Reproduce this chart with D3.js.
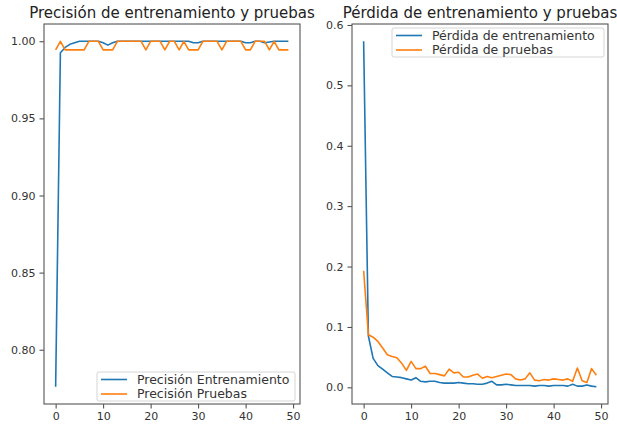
<!DOCTYPE html>
<html>
<head>
<meta charset="utf-8">
<script src="https://cdn.jsdelivr.net/npm/d3@7"></script>
<style>
  body { margin: 0; background: #fff; overflow: hidden; }
  svg { display: block; }
  text { font-family: 'DejaVu Sans', sans-serif; }
</style>
</head>
<body>
<div id="chart"></div>
<script>
// values, one per epoch
const trainAcc = [0.776, 0.9925, 0.996, 0.998, 0.999, 1.0, 1.0, 1.0, 1.0, 1.0,
  0.999, 0.9975, 0.999, 1.0, 1.0, 1.0, 1.0, 1.0, 1.0, 1.0,
  1.0, 1.0, 1.0, 1.0, 1.0, 1.0, 1.0, 1.0, 1.0, 0.999,
  0.999, 1.0, 1.0, 1.0, 1.0, 1.0, 1.0, 1.0, 1.0, 1.0,
  0.999, 0.999, 1.0, 1.0, 0.999, 0.9995, 1.0, 1.0, 1.0, 1.0]
const valAcc = [0.9944, 1.0, 0.9944, 0.9944, 0.9944, 0.9944, 0.9944, 1.0, 1.0, 1.0,
  0.9944, 0.9944, 0.9944, 1.0, 1.0, 1.0, 1.0, 1.0, 1.0, 0.9944,
  1.0, 1.0, 1.0, 0.9944, 1.0, 1.0, 0.9944, 1.0, 0.9944, 0.9944,
  0.9944, 1.0, 1.0, 1.0, 1.0, 0.9944, 1.0, 1.0, 1.0, 1.0,
  0.9944, 0.9944, 1.0, 1.0, 1.0, 0.9944, 1.0, 0.9944, 0.9944, 0.9944]
const trainLoss = [0.573, 0.085, 0.048, 0.036, 0.030, 0.024, 0.018, 0.017, 0.016, 0.014,
  0.012, 0.016, 0.010, 0.009, 0.010, 0.010, 0.008, 0.007, 0.007, 0.007,
  0.008, 0.007, 0.006, 0.006, 0.005, 0.005, 0.007, 0.010, 0.004, 0.004,
  0.005, 0.004, 0.003, 0.003, 0.003, 0.003, 0.002, 0.003, 0.003, 0.002,
  0.003, 0.003, 0.003, 0.002, 0.005, 0.002, 0.002, 0.004, 0.002, 0.001]
const valLoss = [0.193, 0.087, 0.083, 0.076, 0.065, 0.054, 0.051, 0.049, 0.040, 0.028,
  0.043, 0.031, 0.031, 0.035, 0.023, 0.023, 0.021, 0.019, 0.030, 0.024,
  0.025, 0.017, 0.017, 0.020, 0.022, 0.015, 0.018, 0.016, 0.018, 0.020,
  0.022, 0.021, 0.014, 0.012, 0.014, 0.024, 0.012, 0.011, 0.013, 0.012,
  0.014, 0.013, 0.012, 0.014, 0.010, 0.032, 0.011, 0.008, 0.031, 0.020]

const epochTicks = [0, 10, 20, 30, 40, 50]
const accTicks = [0.80, 0.85, 0.90, 0.95, 1.00]
const lossTicks = [0.0, 0.1, 0.2, 0.3, 0.4, 0.5, 0.6]
const accTitle = 'Precisión de entrenamiento y pruebas'
const lossTitle = 'Pérdida de entrenamiento y pruebas'
const accLabels = ['Precisión Entrenamiento', 'Precisión Pruebas']
const lossLabels = ['Pérdida de entrenamiento', 'Pérdida de pruebas']
const colors = ['#1f77b4', '#ff7f0e']

const width = 617
const height = 424
const plotTop = 24
const plotBottom = 404

const svg = d3.select('#chart')
  .append('svg')
  .attr('width', width)
  .attr('height', height)

function panel (cfg) {
  const x = d3.scaleLinear().domain([-2.45, 51.45]).range([cfg.x0, cfg.x1])
  const [lo, hi] = d3.extent(cfg.series.flat())
  const pad = (hi - lo) * 0.05
  const y = d3.scaleLinear().domain([lo - pad, hi + pad]).range([plotBottom, plotTop])
  const g = svg.append('g')

  const line = d3.line().x((d, i) => x(i)).y(d => y(d))
  cfg.series.forEach((s, i) => {
    g.append('path')
      .datum(s)
      .attr('d', line)
      .attr('fill', 'none')
      .attr('stroke', colors[i])
      .attr('stroke-width', 1.6)
      .attr('stroke-linejoin', 'round')
  })

  const xAxis = g.append('g')
    .attr('transform', `translate(0,${plotBottom})`)
    .call(d3.axisBottom(x).tickValues(epochTicks).tickFormat(d3.format('d')).tickSize(4.5).tickPadding(4))
  const yAxis = g.append('g')
    .attr('transform', `translate(${cfg.x0},0)`)
    .call(d3.axisLeft(y).tickValues(cfg.ticks).tickFormat(d3.format(cfg.fmt)).tickSize(4.5).tickPadding(4))
  for (const a of [xAxis, yAxis]) {
    a.select('.domain').remove()
    a.selectAll('line').attr('stroke', '#444')
    a.selectAll('text').attr('fill', '#333').attr('font-size', '11px')
  }

  g.append('rect')
    .attr('x', cfg.x0)
    .attr('y', plotTop)
    .attr('width', cfg.x1 - cfg.x0)
    .attr('height', plotBottom - plotTop)
    .attr('fill', 'none')
    .attr('stroke', '#555')
    .attr('stroke-width', 1.1)

  g.append('text')
    .attr('x', (cfg.x0 + cfg.x1) / 2)
    .attr('y', 18)
    .attr('text-anchor', 'middle')
    .attr('font-size', '15px')
    .attr('fill', '#222')
    .text(cfg.title)

  const lg = g.append('g').attr('transform', `translate(${cfg.lx},${cfg.ly})`)
  lg.append('rect')
    .attr('width', cfg.lw)
    .attr('height', 29)
    .attr('rx', 2)
    .attr('fill', 'white')
    .attr('fill-opacity', 0.8)
    .attr('stroke', '#d5d5d5')
  cfg.labels.forEach((t, i) => {
    const yy = 7.5 + i * 14.5
    lg.append('line')
      .attr('x1', 4)
      .attr('x2', 30)
      .attr('y1', yy)
      .attr('y2', yy)
      .attr('stroke', colors[i])
      .attr('stroke-width', 1.6)
    lg.append('text')
      .attr('x', 40)
      .attr('y', yy)
      .attr('dy', '0.35em')
      .attr('font-size', '12.5px')
      .attr('fill', '#333')
      .text(t)
  })
}

panel({ x0: 44, x1: 300, series: [trainAcc, valAcc], ticks: accTicks, fmt: '.2f', title: accTitle, labels: accLabels, lx: 97, ly: 372, lw: 198 })
panel({ x0: 352, x1: 608, series: [trainLoss, valLoss], ticks: lossTicks, fmt: '.1f', title: lossTitle, labels: lossLabels, lx: 392, ly: 28, lw: 212 })
</script>
</body>
</html>
